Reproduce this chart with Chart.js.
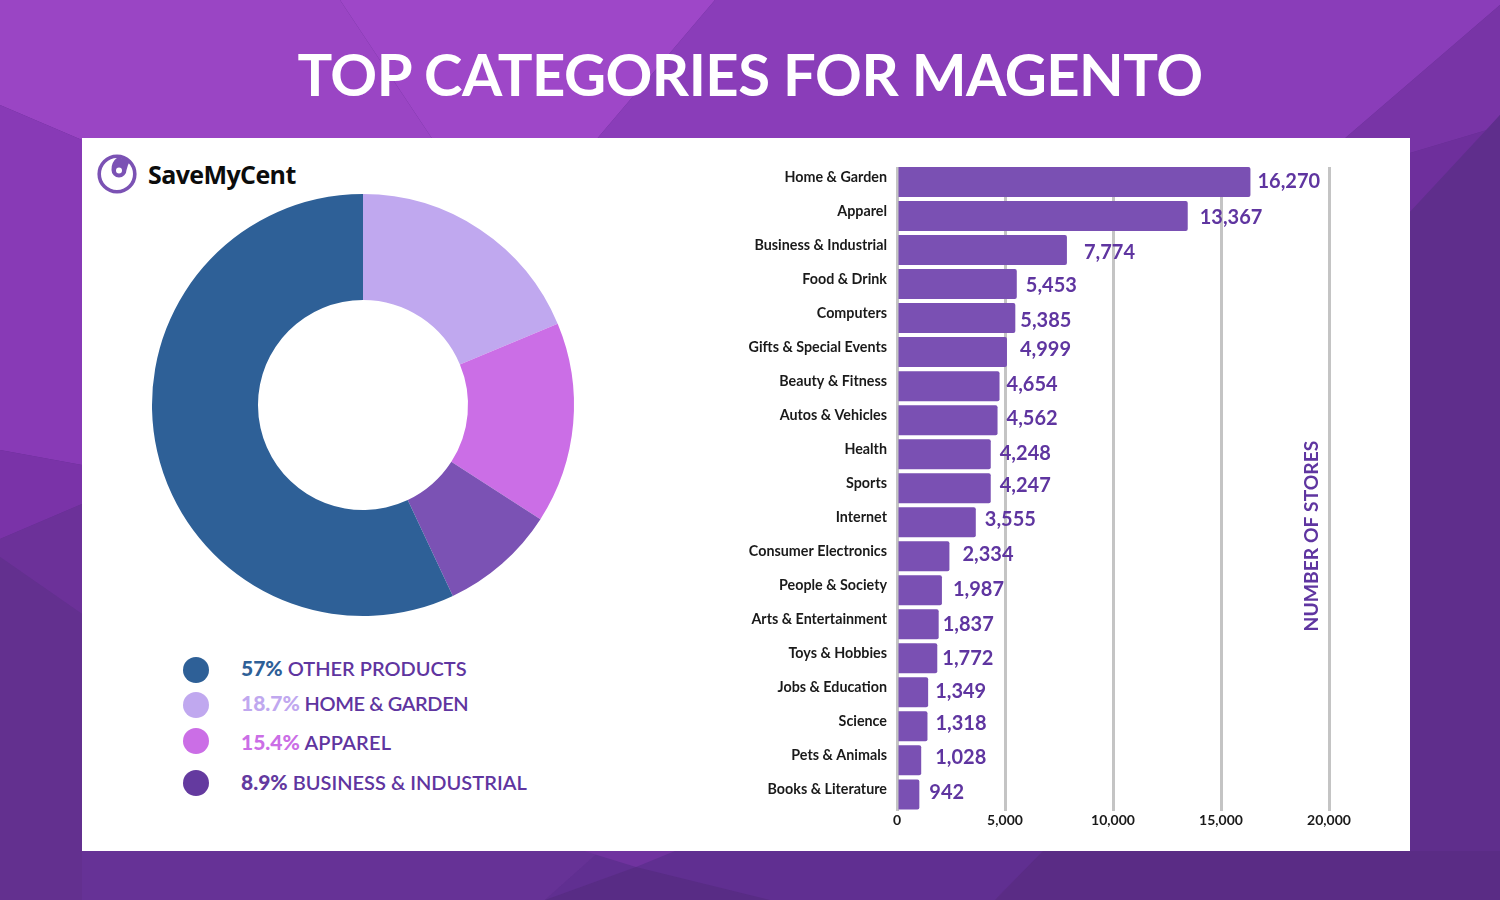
<!DOCTYPE html>
<html>
<head>
<meta charset="utf-8">
<title>Top categories for Magento</title>
<script src="https://cdn.jsdelivr.net/npm/chart.js@4/dist/chart.umd.min.js"></script>
<style>
    html, body { margin: 0; padding: 0; }
    body { width: 1500px; height: 900px; position: relative; overflow: hidden; font-family: Lato, sans-serif; background: #7f38b0; }
    #bg { position: absolute; left: 0; top: 0; }
    h1 { position: absolute; left: 0; top: 38px; width: 1500px; margin: 0; text-align: center; color: #fff; font-size: 58px; line-height: 72px; font-weight: 700; letter-spacing: -0.5px; font-family: Lato, sans-serif; }
    #panel { position: absolute; left: 82px; top: 138px; width: 1328px; height: 713px; background: #fff; }
    #logo { position: absolute; left: 97px; top: 154px; }
    #brand { position: absolute; left: 148px; top: 158px; font: 700 25px/32px "Open Sans", sans-serif; letter-spacing: -0.6px; color: #0c0c0c; }
    #donutChart { position: absolute; left: 143px; top: 185px; }
    #barChart { position: absolute; left: 720px; top: 140px; }
    .key { position: absolute; left: 241px; font: 600 20px/26px Lato, sans-serif; color: #5f35a0; white-space: nowrap; }
    .key b { font-weight: 900; font-size: 21px; }
    .dot { position: absolute; left: 183px; width: 26px; height: 26px; border-radius: 50%; }
</style>
</head>
<body>
<svg id="bg" width="1500" height="900">
    <rect width="1500" height="900" fill="#63308f"/>
    <polygon points="0,0 340,0 433,140 82,140 0,105" fill="#9a45c4"/>
    <polygon points="340,0 715,0 596,140 433,140" fill="#9e47c8"/>
    <polygon points="715,0 1500,0 1500,5 1343,140 596,140" fill="#8a3db9"/>
    <polygon points="1343,140 1500,5 1500,115 1487,130 1410,153 1410,140" fill="#7834a6"/>
    <polygon points="1410,153 1487,130 1410,212" fill="#6e2f9c"/>
    <polygon points="1410,212 1500,115 1500,900 1410,900" fill="#5f2e8c"/>
    <polygon points="0,105 82,140 82,465 0,450" fill="#883ab6"/>
    <polygon points="0,450 82,465 82,504 0,539" fill="#7a33a8"/>
    <polygon points="0,539 82,504 82,614 0,557" fill="#6c3199"/>
    <polygon points="0,557 82,614 82,900 0,900" fill="#63308f"/>
    <polygon points="82,851 600,851 545,900 82,900" fill="#663296"/>
    <polygon points="600,851 1043,851 995,900 545,900" fill="#602f91"/>
    <polygon points="1043,851 1500,851 1500,900 995,900" fill="#5a2c85"/>
    <polygon points="584,851 675,851 636,867" fill="#70339f"/>
    <polygon points="545,900 636,867 770,900" fill="#582c85"/>
</svg>

<h1>TOP CATEGORIES FOR MAGENTO</h1>
<div id="panel"></div>

<svg id="logo" width="42" height="42" viewBox="0 0 42 42">
    <circle cx="20" cy="20" r="17.8" fill="none" stroke="#7b52b4" stroke-width="3.6"/>
    <path d="M21 3 Q14 8 14.5 16 A7.5 7.5 0 0 0 29.5 16 Q31 10 33 7 Z" fill="#7b52b4"/>
    <circle cx="22" cy="16.5" r="3" fill="#fff"/>
</svg>
<div id="brand">SaveMyCent</div>

<canvas id="donutChart" width="440" height="440"></canvas>
<canvas id="barChart" width="660" height="700"></canvas>

<div class="dot" style="top:657px;background:#2e6097"></div>
<div class="dot" style="top:692px;background:#c0a8ef"></div>
<div class="dot" style="top:728px;background:#cb6ee6"></div>
<div class="dot" style="top:770px;background:#643a9f"></div>
<div class="key" style="top:655px"><b style="color:#2e6097">57%</b> OTHER PRODUCTS</div>
<div class="key" style="top:690px;letter-spacing:-0.4px"><b style="color:#c0a8ef;letter-spacing:0">18.7%</b> HOME &amp; GARDEN</div>
<div class="key" style="top:729px;letter-spacing:0.2px"><b style="color:#cb6ee6;letter-spacing:0">15.4%</b> APPAREL</div>
<div class="key" style="top:769px"><b style="color:#643a9f">8.9%</b> BUSINESS &amp; INDUSTRIAL</div>

<script>
const shareLabels = ['Home & Garden', 'Apparel', 'Business & Industrial', 'Other Products'];
const shareValues = [18.7, 15.4, 8.9, 57];
const shareColors = ['#c0a8ef', '#cb6ee6', '#7b52b4', '#2e6097'];

const categories = ['Home & Garden', 'Apparel', 'Business & Industrial', 'Food & Drink', 'Computers',
    'Gifts & Special Events', 'Beauty & Fitness', 'Autos & Vehicles', 'Health', 'Sports', 'Internet',
    'Consumer Electronics', 'People & Society', 'Arts & Entertainment', 'Toys & Hobbies',
    'Jobs & Education', 'Science', 'Pets & Animals', 'Books & Literature'];
const stores = [16270, 13367, 7774, 5453, 5385, 4999, 4654, 4562, 4248, 4247, 3555, 2334, 1987, 1837, 1772, 1349, 1318, 1028, 942];

// hand placed value labels, offset from the end of each bar
const labelDx = [7, 12, 17, 9, 5, 13, 7, 9, 9, 9, 9, 13, 11, 4, 5, 7, 8, 14, 10];
const labelDy = [0, 2, 2, 1, 2, -3, -2, -2, -1, -3, -3, -2, -1, 0, 0, -1, -3, -3, -2];

Chart.defaults.font.family = 'Lato, sans-serif';

new Chart(document.getElementById('donutChart'), {
    type: 'doughnut',
    data: {
        labels: shareLabels,
        datasets: [{ data: shareValues, backgroundColor: shareColors, borderWidth: 0, hoverOffset: 0 }]
    },
    options: {
        responsive: false,
        animation: false,
        radius: 211,
        cutout: 109.5,
        plugins: { legend: { display: false }, tooltip: { enabled: false } }
    }
});

// bars sit slightly off the axis in the picture, grid stops at the top of the first bar
const barNudge = {
    id: 'barNudge',
    beforeDatasetsDraw(chart) {
        const area = chart.chartArea;
        chart.ctx.clearRect(area.left - 3, area.top - 1, area.width + 6, 3);
        chart.ctx.save();
        chart.ctx.translate(1, 0);
    },
    afterDatasetsDraw(chart) {
        chart.ctx.restore();
    }
};

// draws the value next to each bar and the axis name inside the plot
const barText = {
    id: 'barText',
    afterDatasetsDraw(chart) {
        const ctx = chart.ctx;
        const bars = chart.getDatasetMeta(0).data;
        ctx.save();
        ctx.fillStyle = '#5f35a0';
        ctx.font = '700 20px Lato, sans-serif';
        ctx.textBaseline = 'middle';
        bars.forEach(function (bar, i) {
            ctx.fillText(stores[i].toLocaleString('en-US'), bar.x + 2 + labelDx[i], bar.y + labelDy[i]);
        });
        ctx.font = '700 19.3px Lato, sans-serif';
        ctx.textAlign = 'center';
        ctx.translate(592, 396);
        ctx.rotate(-Math.PI / 2);
        ctx.fillText('NUMBER OF STORES', 0, 0);
        ctx.restore();
    }
};

new Chart(document.getElementById('barChart'), {
    type: 'bar',
    data: {
        labels: categories,
        datasets: [{
            data: stores,
            backgroundColor: '#7a50b3',
            borderRadius: 2,
            borderSkipped: 'left',
            inflateAmount: 1,
            categoryPercentage: 1,
            barPercentage: 0.823
        }]
    },
    plugins: [barNudge, barText],
    options: {
        indexAxis: 'y',
        responsive: false,
        animation: false,
        locale: 'en-US',
        layout: { padding: { top: 25, right: 51, bottom: 0, left: 0 } },
        plugins: { legend: { display: false }, tooltip: { enabled: false } },
        scales: {
            x: {
                min: 0,
                max: 20000,
                afterFit(scale) { scale.height = 28.6; },
                grid: { color: '#c4c4c4', lineWidth: 3, drawTicks: false },
                border: { display: false },
                ticks: { stepSize: 5000, padding: 1, maxRotation: 0, color: '#1a1a1a', font: { size: 14, weight: '700' } }
            },
            y: {
                afterFit(scale) { scale.width = 177; },
                grid: { display: false, drawTicks: false },
                border: { display: false },
                ticks: { padding: 10, labelOffset: -4.6, autoSkip: false, color: '#1a1a1a', font: { size: 14.3, weight: '700' } }
            }
        }
    }
});
</script>
</body>
</html>
